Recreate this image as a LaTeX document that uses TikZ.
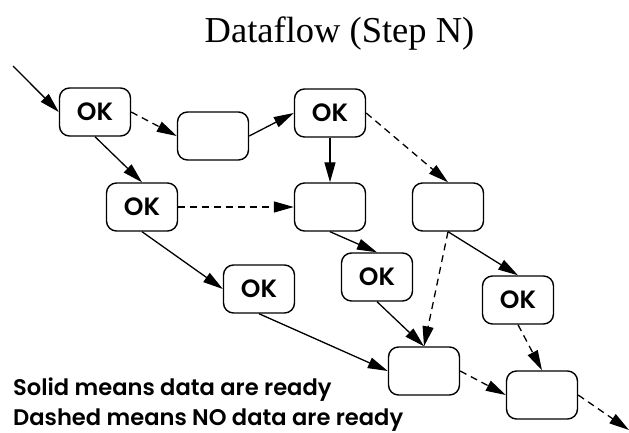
\documentclass[tikz,border=0pt]{standalone}
\usepackage{fontspec}
\setmainfont{Liberation Serif}
\newfontfamily\gothic{Poppins SemiBold}
\usetikzlibrary{arrows.meta}

\tikzset{
  box/.style={draw, line width=1.4pt, rounded corners=10pt,
    minimum width=71pt, minimum height=48pt, inner sep=0pt,
    font=\gothic\fontsize{25}{25}\selectfont},
  flow/.style={line width=1.3pt, -{Triangle[length=20pt,width=11pt]}},
  noflow/.style={flow, dash pattern=on 7pt off 5pt},
  legend/.style={anchor=base west, inner sep=0pt,
    font=\gothic\fontsize{22.6}{22.6}\selectfont},
}

\begin{document}
\begin{tikzpicture}[x=1pt, y=-1pt]
  \useasboundingbox (0,0) rectangle (629,432);

  % title
  \node[anchor=base, inner sep=0pt, font=\fontsize{36.5}{36.5}\selectfont]
    (title) at (339.5,42) {Dataflow (Step N)};

  % operators
  \node[box] (a) at (95,112)  {OK};
  \node[box] (b) at (213,136) {};
  \node[box] (c) at (330,113) {OK};
  \node[box] (d) at (142,207) {OK};
  \node[box] (e) at (330,207) {};
  \node[box] (f) at (448,207) {};
  \node[box] (g) at (259,289) {OK};
  \node[box] (h) at (377,277) {OK};
  \node[box] (i) at (424,371) {};
  \node[box] (j) at (518,300) {OK};
  \node[box] (k) at (542,395) {};

  \coordinate (in)  at (13,66);
  \coordinate (out) at (629,430);

  % data ready
  \draw[flow] (in) -- (a.west);
  \draw[flow] (b.east) -- (c.west);
  \draw[flow] (a.south) -- (d.north);
  \draw[flow] (c.south) -- (e.north);
  \draw[flow] (d.south) -- (g.west);
  \draw[flow] (e.south) -- (h.north);
  \draw[flow] (f.south) -- (j.north);
  \draw[flow] (g.south) -- (i.west);
  \draw[flow] (h.south) -- (i.north);

  % no data ready
  \draw[noflow] (a.east) -- (b.west);
  \draw[noflow] (c.east) -- (f.north);
  \draw[noflow] (d.east) -- (e.west);
  \draw[noflow] (f.south) -- (i.north);
  \draw[noflow] (j.south) -- (k.north);
  \draw[noflow] (i.east) -- (k.west);
  \draw[noflow] (k.east) -- (out);

  % legend
  \node[legend] (l1) at (13,395) {Solid means data are ready};
  \node[legend] (l2) at (13,425) {Dashed means NO data are ready};
\end{tikzpicture}
\end{document}
